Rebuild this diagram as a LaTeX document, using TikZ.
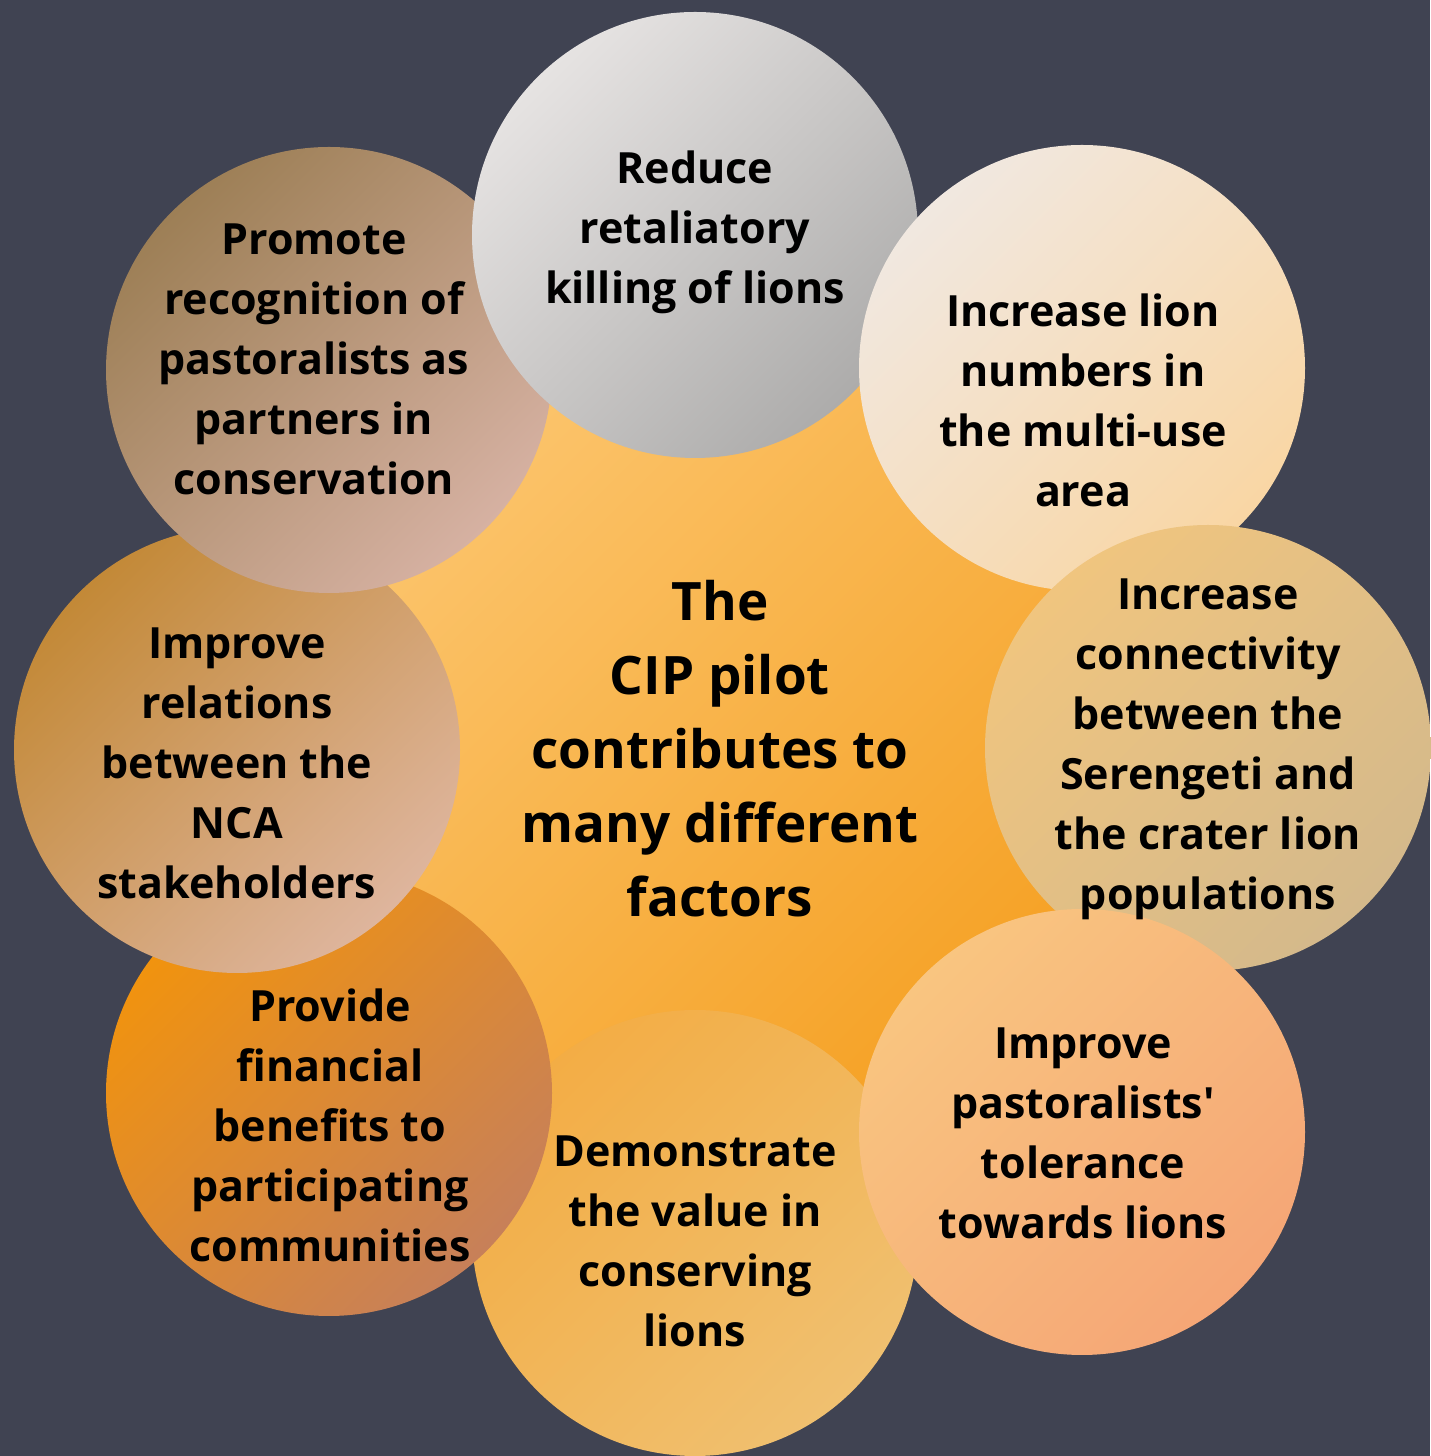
\documentclass[tikz,border=0pt]{standalone}
\usepackage{fontspec}
\setmainfont{Open Sans}[Ligatures=TeXOff]
\definecolor{bg}{HTML}{404352}
\definecolor{cenA}{HTML}{FCC874}\definecolor{cenB}{HTML}{F59E1E}
\definecolor{redA}{HTML}{E6E3E2}\definecolor{redB}{HTML}{ADACAB}
\definecolor{incA}{HTML}{F1E8E0}\definecolor{incB}{HTML}{F9D6A4}
\definecolor{conA}{HTML}{F0C57F}\definecolor{conB}{HTML}{D4B98B}
\definecolor{pasA}{HTML}{F9C580}\definecolor{pasB}{HTML}{F5A676}
\definecolor{demA}{HTML}{F3AD45}\definecolor{demB}{HTML}{F0C070}
\definecolor{proA}{HTML}{F1930E}\definecolor{proB}{HTML}{C78059}
\definecolor{relA}{HTML}{C38937}\definecolor{relB}{HTML}{DEB59D}
\definecolor{pmtA}{HTML}{9D7F56}\definecolor{pmtB}{HTML}{D6B1A2}
\tikzset{
  bubble/.style={circle, draw=none, inner sep=0pt, minimum size=446pt},
  grad/.style n args={2}{top color=#1, bottom color=#2, shading angle=45},
  label/.style={align=center, text=black, font=\fontsize{43}{60}\selectfont\bfseries},
  biglabel/.style={align=center, text=black, font=\fontsize{53}{74}\selectfont\bfseries}
}
\begin{document}
\begin{tikzpicture}[x=1pt,y=1pt]
\fill[bg] (0,0) rectangle (1430,1456);
\useasboundingbox (0,0) rectangle (1430,1456);
\node[circle, draw=none, inner sep=0pt, minimum size=940pt, grad={cenA}{cenB}] (center) at (712,714) {};
\node[bubble, grad={demA}{demB}] (demo) at (695,223) {};
\node[bubble, grad={proA}{proB}] (prov) at (329,363) {};
\node[bubble, grad={relA}{relB}] (rel) at (237,706) {};
\node[bubble, grad={pmtA}{pmtB}] (prom) at (329,1086) {};
\node[bubble, grad={redA}{redB}] (red) at (695,1221) {};
\node[bubble, grad={incA}{incB}] (inc) at (1082,1088) {};
\node[bubble, grad={conA}{conB}] (con) at (1208,708) {};
\node[bubble, grad={pasA}{pasB}] (pas) at (1082,324) {};
\node[biglabel] (tcenter) at (720,707) {The\\CIP pilot\\contributes to\\many different\\factors};
\node[label] (tred) at (695,1224) {Reduce\\retaliatory\\killing of lions};
\node[label] (tinc) at (1083,1056) {Increase lion\\numbers in\\the multi-use\\area};
\node[label] (tcon) at (1208,707) {Increase\\connectivity\\between the\\Serengeti and\\the crater lion\\populations};
\node[label] (tpas) at (1083,323) {Improve\\pastoralists'\\tolerance\\towards lions};
\node[label] (tdem) at (695,215) {Demonstrate\\the value in\\conserving\\lions};
\node[label] (tpro) at (330,331) {Provide\\financial\\benefits to\\participating\\communities};
\node[label] (trel) at (237,693) {Improve\\relations\\between the\\NCA\\stakeholders};
\node[label] (tpmt) at (314,1097) {Promote\\recognition of\\pastoralists as\\partners in\\conservation};
\end{tikzpicture}
\end{document}
